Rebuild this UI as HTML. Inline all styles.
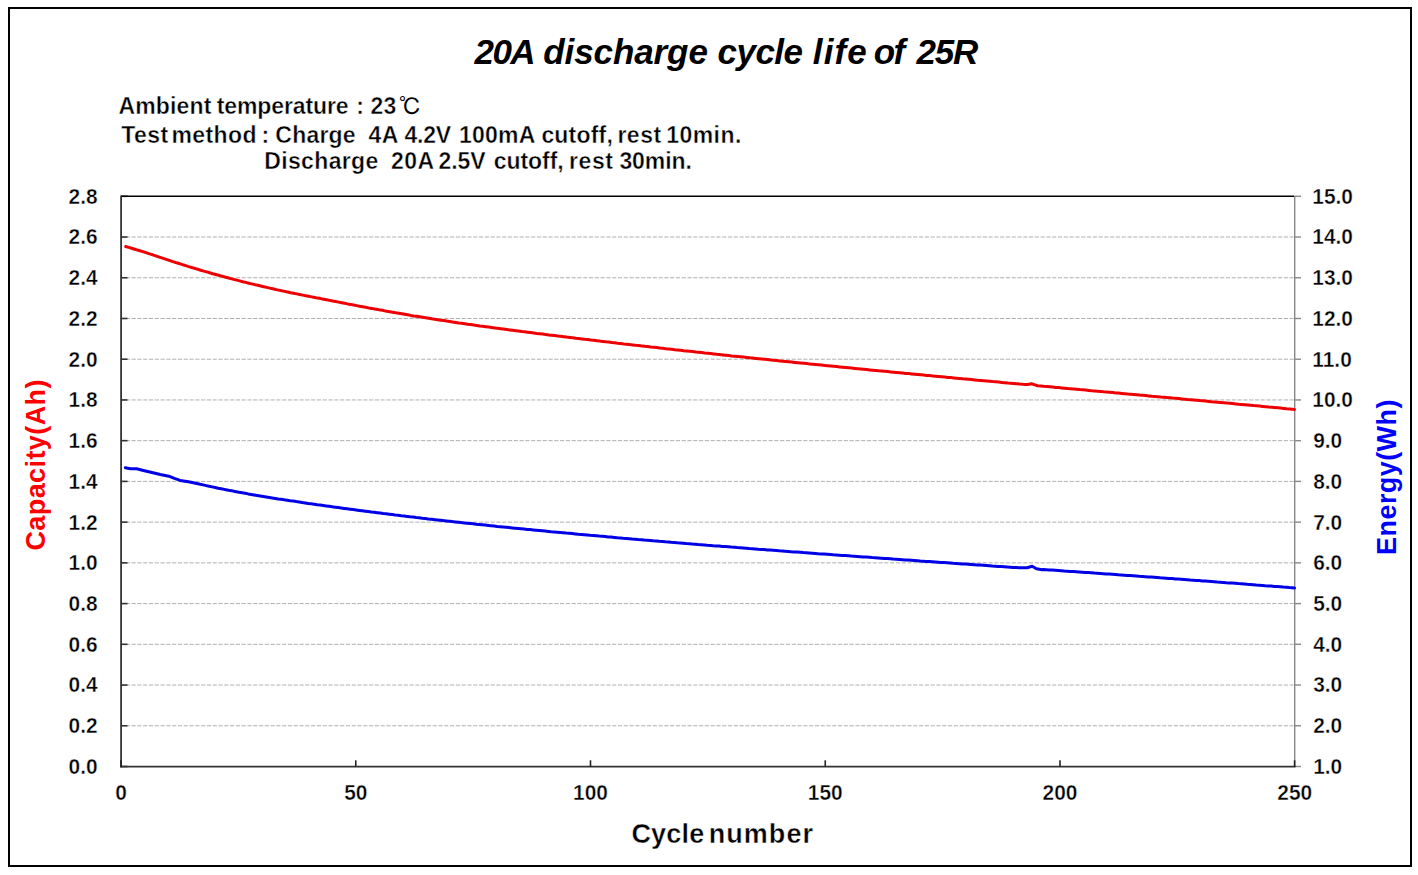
<!DOCTYPE html><html><head><meta charset="utf-8"><title>20A discharge cycle life of 25R</title><style>
html,body{margin:0;padding:0;background:#fff;}body{width:1418px;height:875px;overflow:hidden;}
svg{display:block;}text{font-family:"Liberation Sans",Arial,sans-serif;font-weight:bold;fill:#000;}
.t{font-size:22px;}.e{stroke:#fff;stroke-width:0.4px;paint-order:normal;}
</style></head><body>
<svg width="1418" height="875" viewBox="0 0 1418 875">
<rect x="9" y="8" width="1402" height="858" fill="#fff" stroke="#000" stroke-width="2"/>
<line x1="120" y1="725.77" x2="1294" y2="725.77" stroke="#b0b0b0" stroke-width="1" stroke-dasharray="4.2 1.59"/>
<line x1="120" y1="685.04" x2="1294" y2="685.04" stroke="#b0b0b0" stroke-width="1" stroke-dasharray="4.2 1.59"/>
<line x1="120" y1="644.31" x2="1294" y2="644.31" stroke="#b0b0b0" stroke-width="1" stroke-dasharray="4.2 1.59"/>
<line x1="120" y1="603.59" x2="1294" y2="603.59" stroke="#b0b0b0" stroke-width="1" stroke-dasharray="4.2 1.59"/>
<line x1="120" y1="562.86" x2="1294" y2="562.86" stroke="#b0b0b0" stroke-width="1" stroke-dasharray="4.2 1.59"/>
<line x1="120" y1="522.13" x2="1294" y2="522.13" stroke="#b0b0b0" stroke-width="1" stroke-dasharray="4.2 1.59"/>
<line x1="120" y1="481.40" x2="1294" y2="481.40" stroke="#b0b0b0" stroke-width="1" stroke-dasharray="4.2 1.59"/>
<line x1="120" y1="440.67" x2="1294" y2="440.67" stroke="#b0b0b0" stroke-width="1" stroke-dasharray="4.2 1.59"/>
<line x1="120" y1="399.94" x2="1294" y2="399.94" stroke="#b0b0b0" stroke-width="1" stroke-dasharray="4.2 1.59"/>
<line x1="120" y1="359.21" x2="1294" y2="359.21" stroke="#b0b0b0" stroke-width="1" stroke-dasharray="4.2 1.59"/>
<line x1="120" y1="318.49" x2="1294" y2="318.49" stroke="#b0b0b0" stroke-width="1" stroke-dasharray="4.2 1.59"/>
<line x1="120" y1="277.76" x2="1294" y2="277.76" stroke="#b0b0b0" stroke-width="1" stroke-dasharray="4.2 1.59"/>
<line x1="120" y1="237.03" x2="1294" y2="237.03" stroke="#b0b0b0" stroke-width="1" stroke-dasharray="4.2 1.59"/>
<line x1="121" y1="766.50" x2="127.5" y2="766.50" stroke="#333" stroke-width="1.6"/>
<line x1="121" y1="725.77" x2="127.5" y2="725.77" stroke="#333" stroke-width="1.6"/>
<line x1="121" y1="685.04" x2="127.5" y2="685.04" stroke="#333" stroke-width="1.6"/>
<line x1="121" y1="644.31" x2="127.5" y2="644.31" stroke="#333" stroke-width="1.6"/>
<line x1="121" y1="603.59" x2="127.5" y2="603.59" stroke="#333" stroke-width="1.6"/>
<line x1="121" y1="562.86" x2="127.5" y2="562.86" stroke="#333" stroke-width="1.6"/>
<line x1="121" y1="522.13" x2="127.5" y2="522.13" stroke="#333" stroke-width="1.6"/>
<line x1="121" y1="481.40" x2="127.5" y2="481.40" stroke="#333" stroke-width="1.6"/>
<line x1="121" y1="440.67" x2="127.5" y2="440.67" stroke="#333" stroke-width="1.6"/>
<line x1="121" y1="399.94" x2="127.5" y2="399.94" stroke="#333" stroke-width="1.6"/>
<line x1="121" y1="359.21" x2="127.5" y2="359.21" stroke="#333" stroke-width="1.6"/>
<line x1="121" y1="318.49" x2="127.5" y2="318.49" stroke="#333" stroke-width="1.6"/>
<line x1="121" y1="277.76" x2="127.5" y2="277.76" stroke="#333" stroke-width="1.6"/>
<line x1="121" y1="237.03" x2="127.5" y2="237.03" stroke="#333" stroke-width="1.6"/>
<line x1="121" y1="196.30" x2="127.5" y2="196.30" stroke="#333" stroke-width="1.6"/>
<line x1="1294" y1="766.50" x2="1301" y2="766.50" stroke="#888" stroke-width="1.4"/>
<line x1="1294" y1="725.77" x2="1301" y2="725.77" stroke="#888" stroke-width="1.4"/>
<line x1="1294" y1="685.04" x2="1301" y2="685.04" stroke="#888" stroke-width="1.4"/>
<line x1="1294" y1="644.31" x2="1301" y2="644.31" stroke="#888" stroke-width="1.4"/>
<line x1="1294" y1="603.59" x2="1301" y2="603.59" stroke="#888" stroke-width="1.4"/>
<line x1="1294" y1="562.86" x2="1301" y2="562.86" stroke="#888" stroke-width="1.4"/>
<line x1="1294" y1="522.13" x2="1301" y2="522.13" stroke="#888" stroke-width="1.4"/>
<line x1="1294" y1="481.40" x2="1301" y2="481.40" stroke="#888" stroke-width="1.4"/>
<line x1="1294" y1="440.67" x2="1301" y2="440.67" stroke="#888" stroke-width="1.4"/>
<line x1="1294" y1="399.94" x2="1301" y2="399.94" stroke="#888" stroke-width="1.4"/>
<line x1="1294" y1="359.21" x2="1301" y2="359.21" stroke="#888" stroke-width="1.4"/>
<line x1="1294" y1="318.49" x2="1301" y2="318.49" stroke="#888" stroke-width="1.4"/>
<line x1="1294" y1="277.76" x2="1301" y2="277.76" stroke="#888" stroke-width="1.4"/>
<line x1="1294" y1="237.03" x2="1301" y2="237.03" stroke="#888" stroke-width="1.4"/>
<line x1="1294" y1="196.30" x2="1301" y2="196.30" stroke="#888" stroke-width="1.4"/>
<line x1="121" y1="196.3" x2="1294" y2="196.3" stroke="#000" stroke-width="1.6"/>
<line x1="1294.7" y1="196" x2="1294.7" y2="767" stroke="#888" stroke-width="1.4"/>
<line x1="121.1" y1="195.5" x2="121.1" y2="767.6" stroke="#333" stroke-width="1.8"/>
<line x1="120.2" y1="766.7" x2="1295.5" y2="766.7" stroke="#333" stroke-width="1.8"/>
<line x1="121.00" y1="766.7" x2="121.00" y2="760.3" stroke="#222" stroke-width="1.6"/>
<line x1="355.75" y1="766.7" x2="355.75" y2="760.3" stroke="#222" stroke-width="1.6"/>
<line x1="590.50" y1="766.7" x2="590.50" y2="760.3" stroke="#222" stroke-width="1.6"/>
<line x1="825.25" y1="766.7" x2="825.25" y2="760.3" stroke="#222" stroke-width="1.6"/>
<line x1="1060.00" y1="766.7" x2="1060.00" y2="760.3" stroke="#222" stroke-width="1.6"/>
<line x1="1294.60" y1="766.7" x2="1294.60" y2="760.3" stroke="#222" stroke-width="1.6"/>
<path d="M125.7,246.5 L128.7,247.4 L131.7,248.3 L134.7,249.2 L137.7,250.1 L140.7,251.0 L143.7,251.9 L146.7,252.9 L149.7,253.9 L152.7,254.8 L155.7,255.8 L158.7,256.8 L161.7,257.8 L164.7,258.8 L167.7,259.8 L170.7,260.8 L173.7,261.8 L176.7,262.8 L179.7,263.7 L182.7,264.7 L185.7,265.6 L188.7,266.6 L191.7,267.5 L194.7,268.4 L197.7,269.3 L200.7,270.2 L203.7,271.1 L206.7,271.9 L209.7,272.8 L212.7,273.7 L215.7,274.5 L218.7,275.3 L221.7,276.1 L224.7,277.0 L227.7,277.8 L230.7,278.6 L233.7,279.4 L236.7,280.1 L239.7,280.9 L242.7,281.7 L245.7,282.4 L248.7,283.2 L251.7,283.9 L254.7,284.6 L257.7,285.3 L260.7,286.0 L263.7,286.7 L266.7,287.4 L269.7,288.1 L272.7,288.8 L275.7,289.5 L278.7,290.1 L281.7,290.8 L284.7,291.4 L287.7,292.0 L290.7,292.7 L293.7,293.3 L296.7,293.9 L299.7,294.5 L302.7,295.1 L305.7,295.7 L308.7,296.3 L311.7,296.9 L314.7,297.5 L317.7,298.1 L320.7,298.6 L323.7,299.2 L326.7,299.8 L329.7,300.4 L332.7,301.0 L335.7,301.5 L338.7,302.1 L341.7,302.7 L344.7,303.3 L347.7,303.9 L350.7,304.4 L353.7,305.0 L356.7,305.6 L359.7,306.2 L362.7,306.7 L365.7,307.3 L368.7,307.9 L371.7,308.4 L374.7,309.0 L377.7,309.5 L380.7,310.1 L383.7,310.6 L386.7,311.2 L389.7,311.7 L392.7,312.2 L395.7,312.8 L398.7,313.3 L401.7,313.8 L404.7,314.3 L407.7,314.8 L410.7,315.4 L413.7,315.9 L416.7,316.3 L419.7,316.8 L422.7,317.3 L425.7,317.8 L428.7,318.3 L431.7,318.8 L434.7,319.2 L437.7,319.7 L440.7,320.2 L443.7,320.6 L446.7,321.1 L449.7,321.5 L452.7,322.0 L455.7,322.4 L458.7,322.9 L461.7,323.3 L464.7,323.7 L467.7,324.2 L470.7,324.6 L473.7,325.0 L476.7,325.4 L479.7,325.9 L482.7,326.3 L485.7,326.7 L488.7,327.1 L491.7,327.5 L494.7,327.9 L497.7,328.3 L500.7,328.7 L503.7,329.1 L506.7,329.5 L509.7,329.9 L512.7,330.3 L515.7,330.7 L518.7,331.1 L521.7,331.5 L524.7,331.8 L527.7,332.2 L530.7,332.6 L533.7,333.0 L536.7,333.4 L539.7,333.7 L542.7,334.1 L545.7,334.5 L548.7,334.9 L551.7,335.2 L554.7,335.6 L557.7,336.0 L560.7,336.3 L563.7,336.7 L566.7,337.1 L569.7,337.4 L572.7,337.8 L575.7,338.2 L578.7,338.5 L581.7,338.9 L584.7,339.3 L587.7,339.6 L590.7,340.0 L593.7,340.3 L596.7,340.7 L599.7,341.1 L602.7,341.4 L605.7,341.8 L608.7,342.1 L611.7,342.5 L614.7,342.8 L617.7,343.2 L620.7,343.5 L623.7,343.9 L626.7,344.2 L629.7,344.6 L632.7,344.9 L635.7,345.3 L638.7,345.6 L641.7,345.9 L644.7,346.3 L647.7,346.6 L650.7,347.0 L653.7,347.3 L656.7,347.6 L659.7,348.0 L662.7,348.3 L665.7,348.7 L668.7,349.0 L671.7,349.3 L674.7,349.7 L677.7,350.0 L680.7,350.3 L683.7,350.7 L686.7,351.0 L689.7,351.3 L692.7,351.6 L695.7,352.0 L698.7,352.3 L701.7,352.6 L704.7,353.0 L707.7,353.3 L710.7,353.6 L713.7,353.9 L716.7,354.3 L719.7,354.6 L722.7,354.9 L725.7,355.2 L728.7,355.5 L731.7,355.9 L734.7,356.2 L737.7,356.5 L740.7,356.8 L743.7,357.1 L746.7,357.4 L749.7,357.8 L752.7,358.1 L755.7,358.4 L758.7,358.7 L761.7,359.0 L764.7,359.3 L767.7,359.6 L770.7,360.0 L773.7,360.3 L776.7,360.6 L779.7,360.9 L782.7,361.2 L785.7,361.5 L788.7,361.8 L791.7,362.1 L794.7,362.4 L797.7,362.7 L800.7,363.0 L803.7,363.3 L806.7,363.6 L809.7,363.9 L812.7,364.2 L815.7,364.5 L818.7,364.8 L821.7,365.1 L824.7,365.4 L827.7,365.7 L830.7,366.0 L833.7,366.3 L836.7,366.6 L839.7,366.9 L842.7,367.2 L845.7,367.5 L848.7,367.8 L851.7,368.1 L854.7,368.4 L857.7,368.7 L860.7,369.0 L863.7,369.3 L866.7,369.6 L869.7,369.9 L872.7,370.2 L875.7,370.5 L878.7,370.8 L881.7,371.0 L884.7,371.3 L887.7,371.6 L890.7,371.9 L893.7,372.2 L896.7,372.5 L899.7,372.8 L902.7,373.1 L905.7,373.4 L908.7,373.6 L911.7,373.9 L914.7,374.2 L917.7,374.5 L920.7,374.8 L923.7,375.1 L926.7,375.4 L929.7,375.6 L932.7,375.9 L935.7,376.2 L938.7,376.5 L941.7,376.8 L944.7,377.1 L947.7,377.4 L950.7,377.6 L953.7,377.9 L956.7,378.2 L959.7,378.5 L962.7,378.8 L965.7,379.0 L968.7,379.3 L971.7,379.6 L974.7,379.9 L977.7,380.2 L980.7,380.4 L983.7,380.7 L986.7,381.0 L989.7,381.3 L992.7,381.6 L995.7,381.8 L998.7,382.1 L1001.7,382.4 L1004.7,382.7 L1007.7,383.0 L1010.7,383.2 L1013.7,383.5 L1016.7,383.8 L1019.7,384.1 L1022.7,384.3 L1025.0,384.4 L1027.5,384.5 L1031.5,383.8 L1035.0,384.9 L1037.5,385.7 L1037.7,385.7 L1040.7,386.0 L1043.7,386.3 L1046.7,386.5 L1049.7,386.8 L1052.7,387.1 L1055.7,387.4 L1058.7,387.6 L1061.7,387.9 L1064.7,388.2 L1067.7,388.5 L1070.7,388.7 L1073.7,389.0 L1076.7,389.3 L1079.7,389.6 L1082.7,389.8 L1085.7,390.1 L1088.7,390.4 L1091.7,390.7 L1094.7,390.9 L1097.7,391.2 L1100.7,391.5 L1103.7,391.8 L1106.7,392.0 L1109.7,392.3 L1112.7,392.6 L1115.7,392.9 L1118.7,393.1 L1121.7,393.4 L1124.7,393.7 L1127.7,394.0 L1130.7,394.2 L1133.7,394.5 L1136.7,394.8 L1139.7,395.1 L1142.7,395.3 L1145.7,395.6 L1148.7,395.9 L1151.7,396.2 L1154.7,396.4 L1157.7,396.7 L1160.7,397.0 L1163.7,397.2 L1166.7,397.5 L1169.7,397.8 L1172.7,398.1 L1175.7,398.3 L1178.7,398.6 L1181.7,398.9 L1184.7,399.2 L1187.7,399.5 L1190.7,399.7 L1193.7,400.0 L1196.7,400.3 L1199.7,400.6 L1202.7,400.8 L1205.7,401.1 L1208.7,401.4 L1211.7,401.7 L1214.7,401.9 L1217.7,402.2 L1220.7,402.5 L1223.7,402.8 L1226.7,403.1 L1229.7,403.3 L1232.7,403.6 L1235.7,403.9 L1238.7,404.2 L1241.7,404.4 L1244.7,404.7 L1247.7,405.0 L1250.7,405.3 L1253.7,405.6 L1256.7,405.8 L1259.7,406.1 L1262.7,406.4 L1265.7,406.7 L1268.7,407.0 L1271.7,407.2 L1274.7,407.5 L1277.7,407.8 L1280.7,408.1 L1283.7,408.4 L1286.7,408.7 L1289.7,408.9 L1292.7,409.2 L1294.5,409.4" fill="none" stroke="#ee0000" stroke-width="3" stroke-linejoin="round" stroke-linecap="round"/>
<path d="M125.3,467.7 L130.4,468.8 L136.6,468.8 L143.4,470.5 L151.9,472.5 L160.3,474.5 L168.8,476.2 L174.4,478.4 L180.1,480.4 L188.5,481.8 L198.0,483.8 L200.2,484.3 L203.2,484.9 L206.2,485.6 L209.2,486.3 L212.2,486.9 L215.2,487.5 L218.2,488.2 L221.2,488.8 L224.2,489.4 L227.2,490.0 L230.2,490.6 L233.2,491.1 L236.2,491.7 L239.2,492.3 L242.2,492.8 L245.2,493.3 L248.2,493.9 L251.2,494.4 L254.2,494.9 L257.2,495.4 L260.2,495.9 L263.2,496.4 L266.2,496.9 L269.2,497.4 L272.2,497.9 L275.2,498.4 L278.2,498.9 L281.2,499.3 L284.2,499.8 L287.2,500.2 L290.2,500.7 L293.2,501.1 L296.2,501.6 L299.2,502.0 L302.2,502.5 L305.2,502.9 L308.2,503.4 L311.2,503.8 L314.2,504.2 L317.2,504.7 L320.2,505.1 L323.2,505.5 L326.2,505.9 L329.2,506.3 L332.2,506.8 L335.2,507.2 L338.2,507.6 L341.2,508.0 L344.2,508.4 L347.2,508.8 L350.2,509.2 L353.2,509.6 L356.2,510.0 L359.2,510.4 L362.2,510.8 L365.2,511.2 L368.2,511.6 L371.2,512.0 L374.2,512.3 L377.2,512.7 L380.2,513.1 L383.2,513.5 L386.2,513.8 L389.2,514.2 L392.2,514.6 L395.2,515.0 L398.2,515.3 L401.2,515.7 L404.2,516.0 L407.2,516.4 L410.2,516.8 L413.2,517.1 L416.2,517.5 L419.2,517.8 L422.2,518.2 L425.2,518.5 L428.2,518.9 L431.2,519.2 L434.2,519.6 L437.2,519.9 L440.2,520.2 L443.2,520.6 L446.2,520.9 L449.2,521.2 L452.2,521.6 L455.2,521.9 L458.2,522.2 L461.2,522.6 L464.2,522.9 L467.2,523.2 L470.2,523.5 L473.2,523.8 L476.2,524.2 L479.2,524.5 L482.2,524.8 L485.2,525.1 L488.2,525.4 L491.2,525.7 L494.2,526.0 L497.2,526.4 L500.2,526.7 L503.2,527.0 L506.2,527.3 L509.2,527.6 L512.2,527.9 L515.2,528.2 L518.2,528.5 L521.2,528.8 L524.2,529.1 L527.2,529.4 L530.2,529.6 L533.2,529.9 L536.2,530.2 L539.2,530.5 L542.2,530.8 L545.2,531.1 L548.2,531.4 L551.2,531.7 L554.2,531.9 L557.2,532.2 L560.2,532.5 L563.2,532.8 L566.2,533.1 L569.2,533.3 L572.2,533.6 L575.2,533.9 L578.2,534.2 L581.2,534.4 L584.2,534.7 L587.2,535.0 L590.2,535.3 L593.2,535.5 L596.2,535.8 L599.2,536.1 L602.2,536.3 L605.2,536.6 L608.2,536.9 L611.2,537.1 L614.2,537.4 L617.2,537.7 L620.2,537.9 L623.2,538.2 L626.2,538.4 L629.2,538.7 L632.2,539.0 L635.2,539.2 L638.2,539.5 L641.2,539.7 L644.2,540.0 L647.2,540.2 L650.2,540.5 L653.2,540.8 L656.2,541.0 L659.2,541.3 L662.2,541.5 L665.2,541.8 L668.2,542.0 L671.2,542.3 L674.2,542.5 L677.2,542.8 L680.2,543.0 L683.2,543.2 L686.2,543.5 L689.2,543.7 L692.2,544.0 L695.2,544.2 L698.2,544.5 L701.2,544.7 L704.2,544.9 L707.2,545.2 L710.2,545.4 L713.2,545.7 L716.2,545.9 L719.2,546.1 L722.2,546.4 L725.2,546.6 L728.2,546.8 L731.2,547.1 L734.2,547.3 L737.2,547.6 L740.2,547.8 L743.2,548.0 L746.2,548.2 L749.2,548.5 L752.2,548.7 L755.2,548.9 L758.2,549.2 L761.2,549.4 L764.2,549.6 L767.2,549.9 L770.2,550.1 L773.2,550.3 L776.2,550.5 L779.2,550.8 L782.2,551.0 L785.2,551.2 L788.2,551.4 L791.2,551.7 L794.2,551.9 L797.2,552.1 L800.2,552.3 L803.2,552.6 L806.2,552.8 L809.2,553.0 L812.2,553.2 L815.2,553.4 L818.2,553.7 L821.2,553.9 L824.2,554.1 L827.2,554.3 L830.2,554.5 L833.2,554.8 L836.2,555.0 L839.2,555.2 L842.2,555.4 L845.2,555.6 L848.2,555.8 L851.2,556.1 L854.2,556.3 L857.2,556.5 L860.2,556.7 L863.2,556.9 L866.2,557.1 L869.2,557.3 L872.2,557.6 L875.2,557.8 L878.2,558.0 L881.2,558.2 L884.2,558.4 L887.2,558.6 L890.2,558.8 L893.2,559.1 L896.2,559.3 L899.2,559.5 L902.2,559.7 L905.2,559.9 L908.2,560.1 L911.2,560.3 L914.2,560.5 L917.2,560.7 L920.2,561.0 L923.2,561.2 L926.2,561.4 L929.2,561.6 L932.2,561.8 L935.2,562.0 L938.2,562.2 L941.2,562.4 L944.2,562.6 L947.2,562.8 L950.2,563.0 L953.2,563.3 L956.2,563.5 L959.2,563.7 L962.2,563.9 L965.2,564.1 L968.2,564.3 L971.2,564.5 L974.2,564.7 L977.2,564.9 L980.2,565.1 L983.2,565.3 L986.2,565.5 L989.2,565.7 L992.2,566.0 L995.2,566.2 L998.2,566.4 L1001.2,566.6 L1004.2,566.8 L1007.2,567.0 L1010.2,567.2 L1013.2,567.4 L1016.2,567.6 L1019.2,567.8 L1019.7,567.8 L1027.1,567.7 L1032.1,566.3 L1036.5,568.8 L1042.0,569.7 L1043.2,569.5 L1046.2,569.7 L1049.2,569.9 L1052.2,570.1 L1055.2,570.3 L1058.2,570.5 L1061.2,570.7 L1064.2,571.0 L1067.2,571.2 L1070.2,571.4 L1073.2,571.6 L1076.2,571.8 L1079.2,572.0 L1082.2,572.2 L1085.2,572.4 L1088.2,572.6 L1091.2,572.8 L1094.2,573.1 L1097.2,573.3 L1100.2,573.5 L1103.2,573.7 L1106.2,573.9 L1109.2,574.1 L1112.2,574.3 L1115.2,574.5 L1118.2,574.8 L1121.2,575.0 L1124.2,575.2 L1127.2,575.4 L1130.2,575.6 L1133.2,575.8 L1136.2,576.0 L1139.2,576.3 L1142.2,576.5 L1145.2,576.7 L1148.2,576.9 L1151.2,577.1 L1154.2,577.3 L1157.2,577.5 L1160.2,577.8 L1163.2,578.0 L1166.2,578.2 L1169.2,578.4 L1172.2,578.6 L1175.2,578.9 L1178.2,579.1 L1181.2,579.3 L1184.2,579.5 L1187.2,579.7 L1190.2,580.0 L1193.2,580.2 L1196.2,580.4 L1199.2,580.6 L1202.2,580.9 L1205.2,581.1 L1208.2,581.3 L1211.2,581.5 L1214.2,581.7 L1217.2,582.0 L1220.2,582.2 L1223.2,582.4 L1226.2,582.7 L1229.2,582.9 L1232.2,583.1 L1235.2,583.3 L1238.2,583.6 L1241.2,583.8 L1244.2,584.0 L1247.2,584.3 L1250.2,584.5 L1253.2,584.7 L1256.2,585.0 L1259.2,585.2 L1262.2,585.4 L1265.2,585.7 L1268.2,585.9 L1271.2,586.1 L1274.2,586.4 L1277.2,586.6 L1280.2,586.8 L1283.2,587.1 L1286.2,587.3 L1289.2,587.6 L1292.2,587.8 L1294.5,588.0" fill="none" stroke="#0000e6" stroke-width="3" stroke-linejoin="round" stroke-linecap="round"/>
<text class="t e" transform="translate(97.60 773.90) scale(0.950 1)" text-anchor="end">0.0</text>
<text class="t e" transform="translate(97.60 733.17) scale(0.950 1)" text-anchor="end">0.2</text>
<text class="t e" transform="translate(97.60 692.44) scale(0.950 1)" text-anchor="end">0.4</text>
<text class="t e" transform="translate(97.60 651.71) scale(0.950 1)" text-anchor="end">0.6</text>
<text class="t e" transform="translate(97.60 610.99) scale(0.950 1)" text-anchor="end">0.8</text>
<text class="t e" transform="translate(97.60 570.26) scale(0.950 1)" text-anchor="end">1.0</text>
<text class="t e" transform="translate(97.60 529.53) scale(0.950 1)" text-anchor="end">1.2</text>
<text class="t e" transform="translate(97.60 488.80) scale(0.950 1)" text-anchor="end">1.4</text>
<text class="t e" transform="translate(97.60 448.07) scale(0.950 1)" text-anchor="end">1.6</text>
<text class="t e" transform="translate(97.60 407.34) scale(0.950 1)" text-anchor="end">1.8</text>
<text class="t e" transform="translate(97.60 366.61) scale(0.950 1)" text-anchor="end">2.0</text>
<text class="t e" transform="translate(97.60 325.89) scale(0.950 1)" text-anchor="end">2.2</text>
<text class="t e" transform="translate(97.60 285.16) scale(0.950 1)" text-anchor="end">2.4</text>
<text class="t e" transform="translate(97.60 244.43) scale(0.950 1)" text-anchor="end">2.6</text>
<text class="t e" transform="translate(97.60 203.70) scale(0.950 1)" text-anchor="end">2.8</text>
<text class="t e" transform="translate(1313.20 773.90) scale(0.950 1)" text-anchor="start">1.0</text>
<text class="t e" transform="translate(1313.20 733.17) scale(0.950 1)" text-anchor="start">2.0</text>
<text class="t e" transform="translate(1313.20 692.44) scale(0.950 1)" text-anchor="start">3.0</text>
<text class="t e" transform="translate(1313.20 651.71) scale(0.950 1)" text-anchor="start">4.0</text>
<text class="t e" transform="translate(1313.20 610.99) scale(0.950 1)" text-anchor="start">5.0</text>
<text class="t e" transform="translate(1313.20 570.26) scale(0.950 1)" text-anchor="start">6.0</text>
<text class="t e" transform="translate(1313.20 529.53) scale(0.950 1)" text-anchor="start">7.0</text>
<text class="t e" transform="translate(1313.20 488.80) scale(0.950 1)" text-anchor="start">8.0</text>
<text class="t e" transform="translate(1313.20 448.07) scale(0.950 1)" text-anchor="start">9.0</text>
<text class="t e" transform="translate(1312.30 407.34) scale(0.950 1)" text-anchor="start">10.0</text>
<text class="t e" transform="translate(1312.30 366.61) scale(0.950 1)" text-anchor="start">11.0</text>
<text class="t e" transform="translate(1312.30 325.89) scale(0.950 1)" text-anchor="start">12.0</text>
<text class="t e" transform="translate(1312.30 285.16) scale(0.950 1)" text-anchor="start">13.0</text>
<text class="t e" transform="translate(1312.30 244.43) scale(0.950 1)" text-anchor="start">14.0</text>
<text class="t e" transform="translate(1312.30 203.70) scale(0.950 1)" text-anchor="start">15.0</text>
<text class="t e" transform="translate(121.00 800.10) scale(0.950 1)" text-anchor="middle">0</text>
<text class="t e" transform="translate(355.75 800.10) scale(0.950 1)" text-anchor="middle">50</text>
<text class="t e" transform="translate(590.50 800.10) scale(0.950 1)" text-anchor="middle">100</text>
<text class="t e" transform="translate(825.25 800.10) scale(0.950 1)" text-anchor="middle">150</text>
<text class="t e" transform="translate(1060.00 800.10) scale(0.950 1)" text-anchor="middle">200</text>
<text class="t e" transform="translate(1294.75 800.10) scale(0.950 1)" text-anchor="middle">250</text>
<text x="474.60" y="63.60" style="font:italic bold 35px 'Liberation Sans'" textLength="60.92" lengthAdjust="spacing">20A</text>
<text x="543.30" y="63.60" style="font:italic bold 35px 'Liberation Sans'" textLength="164.56" lengthAdjust="spacing">discharge</text>
<text x="717.60" y="63.60" style="font:italic bold 35px 'Liberation Sans'" textLength="85.39" lengthAdjust="spacing">cycle</text>
<text x="812.80" y="63.60" style="font:italic bold 35px 'Liberation Sans'" textLength="53.98" lengthAdjust="spacing">life</text>
<text x="873.70" y="63.60" style="font:italic bold 35px 'Liberation Sans'" textLength="31.35" lengthAdjust="spacing">of</text>
<text x="916.60" y="63.60" style="font:italic bold 35px 'Liberation Sans'" textLength="61.62" lengthAdjust="spacing">25R</text>
<text class="e" x="118.40" y="114.20" style="font:bold 23px 'Liberation Sans'" textLength="93.10" lengthAdjust="spacing">Ambient</text>
<text class="e" x="216.80" y="114.20" style="font:bold 23px 'Liberation Sans'" textLength="131.74" lengthAdjust="spacing">temperature</text>
<text class="e" x="356.30" y="114.20" style="font:bold 23px 'Liberation Sans'" textLength="8.67" lengthAdjust="spacing">:</text>
<text class="e" x="370.60" y="114.20" style="font:bold 23px 'Liberation Sans'" textLength="25.59" lengthAdjust="spacing">23</text>
<text class="e" x="121.30" y="143.40" style="font:bold 23px 'Liberation Sans'" textLength="46.99" lengthAdjust="spacing">Test</text>
<text class="e" x="171.40" y="143.40" style="font:bold 23px 'Liberation Sans'" textLength="85.26" lengthAdjust="spacing">method</text>
<text class="e" x="261.50" y="143.40" style="font:bold 23px 'Liberation Sans'" textLength="9.17" lengthAdjust="spacing">:</text>
<text class="e" x="275.30" y="143.40" style="font:bold 23px 'Liberation Sans'" textLength="80.35" lengthAdjust="spacing">Charge</text>
<text class="e" x="368.40" y="143.40" style="font:bold 23px 'Liberation Sans'" textLength="29.91" lengthAdjust="spacing">4A</text>
<text class="e" x="404.40" y="143.40" style="font:bold 23px 'Liberation Sans'" textLength="46.73" lengthAdjust="spacing">4.2V</text>
<text class="e" x="458.90" y="143.40" style="font:bold 23px 'Liberation Sans'" textLength="76.44" lengthAdjust="spacing">100mA</text>
<text class="e" x="541.40" y="143.40" style="font:bold 23px 'Liberation Sans'" textLength="71.37" lengthAdjust="spacing">cutoff,</text>
<text class="e" x="617.40" y="143.40" style="font:bold 23px 'Liberation Sans'" textLength="43.70" lengthAdjust="spacing">rest</text>
<text class="e" x="666.30" y="143.40" style="font:bold 23px 'Liberation Sans'" textLength="74.98" lengthAdjust="spacing">10min.</text>
<text class="e" x="264.20" y="169.00" style="font:bold 23px 'Liberation Sans'" textLength="114.12" lengthAdjust="spacing">Discharge</text>
<text class="e" x="390.90" y="169.00" style="font:bold 23px 'Liberation Sans'" textLength="43.30" lengthAdjust="spacing">20A</text>
<text class="e" x="438.50" y="169.00" style="font:bold 23px 'Liberation Sans'" textLength="47.03" lengthAdjust="spacing">2.5V</text>
<text class="e" x="493.70" y="169.00" style="font:bold 23px 'Liberation Sans'" textLength="69.97" lengthAdjust="spacing">cutoff,</text>
<text class="e" x="568.90" y="169.00" style="font:bold 23px 'Liberation Sans'" textLength="44.10" lengthAdjust="spacing">rest</text>
<text class="e" x="619.40" y="169.00" style="font:bold 23px 'Liberation Sans'" textLength="72.38" lengthAdjust="spacing">30min.</text>
<text class="e" x="631.40" y="842.60" style="font:bold 27px 'Liberation Sans'" textLength="72.96" lengthAdjust="spacing">Cycle</text>
<text class="e" x="708.70" y="842.60" style="font:bold 27px 'Liberation Sans'" textLength="104.32" lengthAdjust="spacing">number</text>
<text x="398.8" y="115.3" style="font-family:IPAGothic,'Noto Sans CJK JP',sans-serif;font-weight:normal;font-size:23px">℃</text>
<text transform="translate(44.80 550.50) rotate(-90)" style="font:bold 27px 'Liberation Sans';fill:#f00" textLength="170.93" lengthAdjust="spacing">Capacity(Ah)</text>
<text transform="translate(1396.20 554.90) rotate(-90)" style="font:bold 27px 'Liberation Sans';fill:#00f" textLength="155.30" lengthAdjust="spacing">Energy(Wh)</text>
</svg></body></html>
